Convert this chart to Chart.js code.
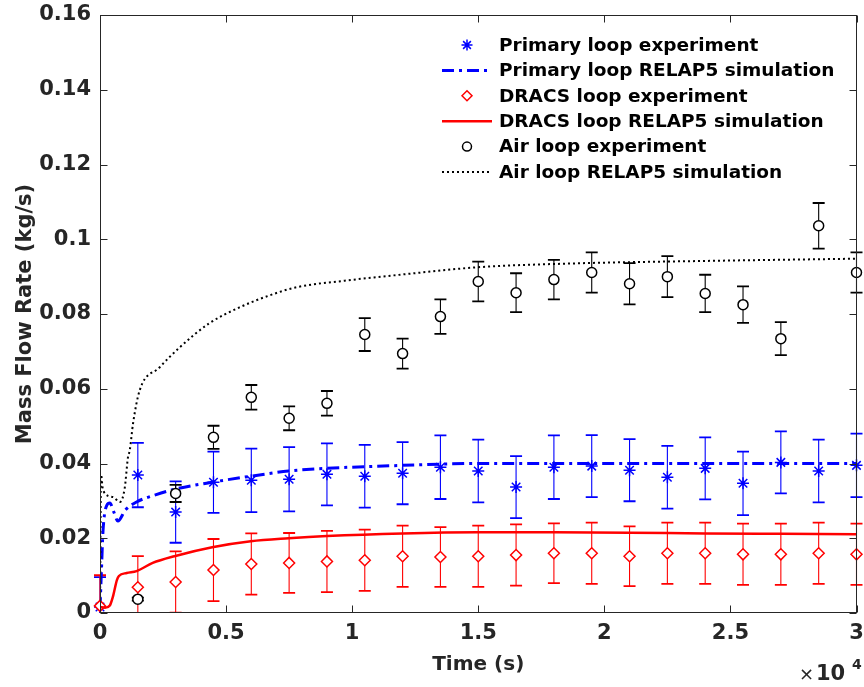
<!DOCTYPE html>
<html>
<head>
<meta charset="utf-8">
<script src="https://cdn.jsdelivr.net/npm/chart.js@4.4.1/dist/chart.umd.min.js"></script>
<style>
    html, body { margin: 0; padding: 0; background: #fff; }
    #wrap { width: 864px; height: 687px; }
</style>
</head>
<body>
<div id="wrap"><canvas id="flowChart" width="864" height="687"></canvas></div>
<script>
// Experiment sample times (s)
const expTime = [0, 1500, 3000, 4500, 6000, 7500, 9000, 10500, 12000, 13500, 15000,
    16500, 18000, 19500, 21000, 22500, 24000, 25500, 27000, 28500, 30000];

// Primary loop experiment (kg/s) and error half-widths
const primaryExp = [0.0016, 0.0369, 0.0270, 0.0350, 0.0355, 0.0358, 0.0371, 0.0366, 0.0374, 0.0390, 0.0380,
    0.0337, 0.0390, 0.0393, 0.0382, 0.0363, 0.0387, 0.0347, 0.0403, 0.0380, 0.0395];
const primaryErr = [0.0080, 0.0086, 0.0082, 0.0082, 0.0085, 0.0086, 0.0083, 0.0084, 0.0083, 0.0085, 0.0084,
    0.0083, 0.0085, 0.0083, 0.0083, 0.0084, 0.0083, 0.0085, 0.0083, 0.0084, 0.0085];

// DRACS loop experiment
const dracsExp = [0.0019, 0.0069, 0.0083, 0.0115, 0.0131, 0.0134, 0.0138, 0.0141, 0.0152, 0.0150, 0.0152,
    0.0155, 0.0160, 0.0160, 0.0152, 0.0160, 0.0160, 0.0157, 0.0157, 0.0160, 0.0157];
const dracsErr = [0.0082, 0.0083, 0.0082, 0.0083, 0.0082, 0.0080, 0.0082, 0.0082, 0.0082, 0.0080, 0.0082,
    0.0082, 0.0080, 0.0082, 0.0080, 0.0082, 0.0082, 0.0082, 0.0082, 0.0082, 0.0082];

// Air loop experiment
const airExp = [null, 0.0037, 0.0320, 0.0470, 0.0577, 0.0521, 0.0561, 0.0745, 0.0694, 0.0793, 0.0887,
    0.0857, 0.0892, 0.0911, 0.0881, 0.0900, 0.0855, 0.0825, 0.0734, 0.1036, 0.0911];
const airErr = [null, 0.0004, 0.0023, 0.0031, 0.0033, 0.0032, 0.0033, 0.0044, 0.0040, 0.0046, 0.0053,
    0.0052, 0.0053, 0.0054, 0.0055, 0.0055, 0.0050, 0.0049, 0.0044, 0.0061, 0.0054];

// RELAP5 simulations
const primarySimTime = [0, 60, 120, 270, 390, 550, 710, 1000, 1450, 2200, 2950, 4450, 5980, 7480,
    9000, 12000, 15000, 18000, 21000, 24000, 27000, 30000];
const primarySim = [0.0010, 0.0120, 0.0220, 0.0288, 0.0294, 0.0270, 0.0246, 0.0275, 0.0297, 0.0316, 0.0331,
    0.0350, 0.0366, 0.0380, 0.0387, 0.0395, 0.0400, 0.0400, 0.0400, 0.0400, 0.0400, 0.0400];

const dracsSimTime = [0, 200, 390, 510, 670, 750, 1060, 1450, 2090, 2950, 4450, 5980, 7480,
    9000, 12000, 15000, 18000, 21000, 24000, 27000, 30000];
const dracsSim = [0.0016, 0.0014, 0.0020, 0.0043, 0.0088, 0.0099, 0.0107, 0.0112, 0.0134, 0.0152, 0.0176,
    0.0192, 0.0200, 0.0206, 0.0213, 0.0216, 0.0216, 0.0215, 0.0213, 0.0212, 0.0211];

const airSimTime = [0, 40, 120, 520, 790, 980, 1110, 1180, 1310, 1575, 2360, 3150, 4330, 5510, 6690,
    7750, 9700, 12320, 14960, 18620, 24000, 30000];
const airSim = [0, 0.0370, 0.0328, 0.0310, 0.0297, 0.0334, 0.0417, 0.0435, 0.0507, 0.0596, 0.0657, 0.0710,
    0.0775, 0.0817, 0.0849, 0.0871, 0.0889, 0.0908, 0.0925, 0.0935, 0.0942, 0.0948];

// Axes
const xTickValues = [0, 5000, 10000, 15000, 20000, 25000, 30000];
const xTickLabels = ['0', '0.5', '1', '1.5', '2', '2.5', '3'];
const yTickValues = [0, 0.02, 0.04, 0.06, 0.08, 0.1, 0.12, 0.14, 0.16];
const yTickLabels = ['0', '0.02', '0.04', '0.06', '0.08', '0.1', '0.12', '0.14', '0.16'];

const legendLabels = [
    'Primary loop experiment',
    'Primary loop RELAP5 simulation',
    'DRACS loop experiment',
    'DRACS loop RELAP5 simulation',
    'Air loop experiment',
    'Air loop RELAP5 simulation'
];

const AXIS_COLOR = '#262626';
const FONT = 'DejaVu Sans';

function pairs(xs, ys) {
    return xs.map((x, i) => ({ x: x, y: ys[i] }));
}

function markerSet(label, ys, errs, color, style, radius) {
    return {
        label: label,
        data: pairs(expTime, ys),
        errors: errs,
        showLine: false,
        borderColor: color,
        backgroundColor: '#fff',
        pointStyle: style,
        pointRadius: radius,
        pointBorderWidth: 1.5,
        pointBackgroundColor: '#fff',
        pointBorderColor: color,
        clip: false
    };
}

function lineSet(label, xs, ys, color, width, dash) {
    return {
        label: label,
        data: pairs(xs, ys),
        borderColor: color,
        borderWidth: width,
        borderDash: dash,
        pointRadius: 0,
        fill: false,
        cubicInterpolationMode: 'monotone'
    };
}

// Error bars, drawn under the markers
const errorBars = {
    id: 'errorBars',
    beforeDatasetsDraw(chart) {
        const { ctx, chartArea, scales } = chart;
        ctx.save();
        ctx.beginPath();
        ctx.rect(chartArea.left - 8, chartArea.top, chartArea.width + 16, chartArea.height);
        ctx.clip();
        chart.data.datasets.forEach(ds => {
            if (!ds.errors) return;
            ctx.strokeStyle = ds.borderColor;
            ds.data.forEach((pt, i) => {
                const e = ds.errors[i];
                if (pt.y == null || e == null) return;
                const px = scales.x.getPixelForValue(pt.x);
                const top = scales.y.getPixelForValue(pt.y + e);
                const bot = scales.y.getPixelForValue(pt.y - e);
                ctx.lineWidth = 1.1;
                ctx.beginPath();
                ctx.moveTo(px, top);
                ctx.lineTo(px, bot);
                ctx.stroke();
                ctx.lineWidth = 1.8;
                ctx.beginPath();
                ctx.moveTo(px - 6, top); ctx.lineTo(px + 6, top);
                ctx.moveTo(px - 6, bot); ctx.lineTo(px + 6, bot);
                ctx.stroke();
            });
        });
        ctx.restore();
    }
};

// Box, inward ticks, exponent label and legend
const decorations = {
    id: 'decorations',
    afterDraw(chart) {
        const { ctx, chartArea: a, scales } = chart;
        const L = Math.round(a.left) + 0.5, R = Math.round(a.right) - 0.5;
        const T = Math.round(a.top) + 0.5, B = Math.round(a.bottom) - 0.5;
        ctx.save();
        ctx.strokeStyle = AXIS_COLOR;
        ctx.lineWidth = 1;
        ctx.setLineDash([]);
        ctx.strokeRect(L, T, R - L, B - T);
        ctx.beginPath();
        xTickValues.forEach(v => {
            const px = Math.round(scales.x.getPixelForValue(v)) + 0.5;
            ctx.moveTo(px, B); ctx.lineTo(px, B - 7);
            ctx.moveTo(px, T); ctx.lineTo(px, T + 7);
        });
        yTickValues.forEach(v => {
            const py = Math.round(scales.y.getPixelForValue(v)) + 0.5;
            ctx.moveTo(L, py); ctx.lineTo(L + 7, py);
            ctx.moveTo(R, py); ctx.lineTo(R - 7, py);
        });
        ctx.stroke();

        // x10^4 multiplier
        ctx.fillStyle = AXIS_COLOR;
        ctx.textBaseline = 'alphabetic';
        ctx.textAlign = 'left';
        ctx.font = '18px "' + FONT + '"';
        ctx.fillText('\u00d7', 799, 680);
        ctx.font = 'bold 21px "' + FONT + '"';
        ctx.fillText('10', 816, 680);
        ctx.font = 'bold 14px "' + FONT + '"';
        ctx.fillText('4', 852, 669);

        // legend
        const symX = 467, textX = 499, rowY = 45, rowH = 25.4;
        ctx.font = 'bold 18.5px "' + FONT + '"';
        ctx.textBaseline = 'middle';
        chart.data.datasets.forEach((ds, i) => {
            const y = rowY + i * rowH;
            if (ds.showLine === false) {
                ctx.strokeStyle = ds.borderColor;
                ctx.fillStyle = '#fff';
                ctx.lineWidth = 1.5;
                Chart.helpers.drawPoint(ctx, {
                    pointStyle: ds.pointStyle,
                    radius: ds.pointRadius - 0.5,
                    borderWidth: 1.5,
                    rotation: 0
                }, symX, y);
            } else {
                ctx.strokeStyle = ds.borderColor;
                ctx.lineWidth = ds.borderWidth;
                ctx.setLineDash(ds.borderDash || []);
                ctx.beginPath();
                ctx.moveTo(442, y);
                ctx.lineTo(492, y);
                ctx.stroke();
                ctx.setLineDash([]);
            }
            ctx.fillStyle = '#000';
            ctx.fillText(legendLabels[i], textX, y + 1);
        });
        ctx.restore();
    }
};

const datasets = [
    markerSet(legendLabels[0], primaryExp, primaryErr, '#0000ff', 'star', 6),
    lineSet(legendLabels[1], primarySimTime, primarySim, '#0000ff', 3, [12, 5, 3, 5]),
    markerSet(legendLabels[2], dracsExp, dracsErr, '#ff0000', 'rectRot', 5.5),
    lineSet(legendLabels[3], dracsSimTime, dracsSim, '#ff0000', 2.5, []),
    markerSet(legendLabels[4], airExp, airErr, '#000000', 'circle', 5),
    lineSet(legendLabels[5], airSimTime, airSim, '#000000', 2, [2, 3])
];
// later series drawn on top, like the original plot
datasets.forEach((ds, i) => { ds.order = datasets.length - 1 - i; });

new Chart(document.getElementById('flowChart'), {
    type: 'line',
    data: { datasets: datasets },
    options: {
        responsive: false,
        animation: false,
        events: [],
        layout: { padding: { left: 0, top: 15, right: 2, bottom: 0 } },
        plugins: {
            legend: { display: false },
            tooltip: { enabled: false }
        },
        scales: {
            x: {
                type: 'linear',
                min: 0,
                max: 30000,
                grid: { display: false, drawTicks: false },
                border: { display: false },
                afterBuildTicks: s => { s.ticks = xTickValues.map(v => ({ value: v })); },
                afterFit: s => { s.height = 74; s.paddingLeft = 0; s.paddingRight = 0; },
                ticks: {
                    color: AXIS_COLOR,
                    padding: 8,
                    maxRotation: 0,
                    font: { family: FONT, size: 21, weight: 'bold' },
                    callback: (v, i) => xTickLabels[i]
                },
                title: {
                    display: true,
                    text: 'Time (s)',
                    color: AXIS_COLOR,
                    padding: { top: 10, bottom: 10 },
                    font: { family: FONT, size: 20, weight: 'bold' }
                }
            },
            y: {
                min: 0,
                max: 0.16,
                grid: { display: false, drawTicks: false },
                border: { display: false },
                afterBuildTicks: s => { s.ticks = yTickValues.map(v => ({ value: v })); },
                afterFit: s => { s.width = 100; s.paddingTop = 0; s.paddingBottom = 0; },
                ticks: {
                    color: AXIS_COLOR,
                    padding: 9,
                    font: { family: FONT, size: 21, weight: 'bold' },
                    callback: (v, i) => yTickLabels[i]
                },
                title: {
                    display: true,
                    text: 'Mass Flow Rate (kg/s)',
                    color: AXIS_COLOR,
                    padding: { top: 13, bottom: 0 },
                    font: { family: FONT, size: 21, weight: 'bold' }
                }
            }
        }
    },
    plugins: [errorBars, decorations]
});
</script>
</body>
</html>
